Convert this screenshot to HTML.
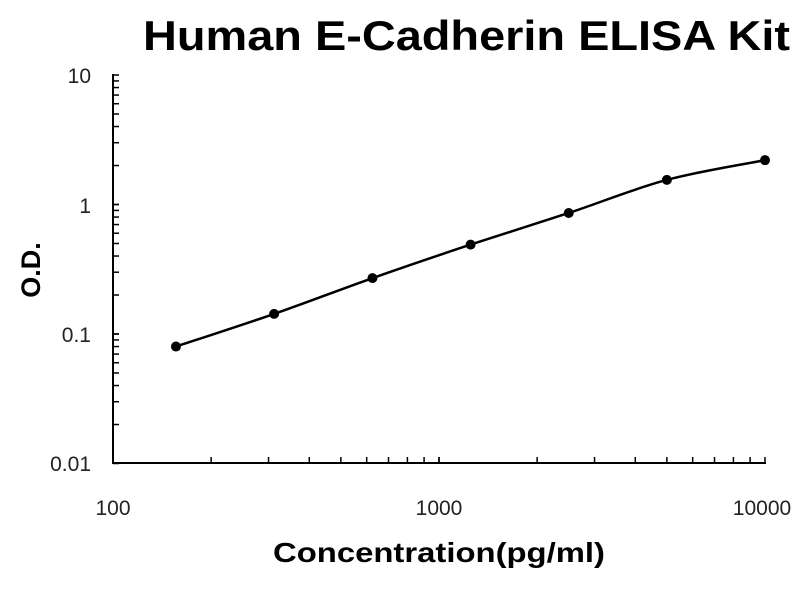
<!DOCTYPE html>
<html><head><meta charset="utf-8"><style>
body{margin:0;background:#fff;}
svg{display:block;font-family:"Liberation Sans",Arial,sans-serif;}
</style></head><body>
<svg id="s" width="800" height="600" viewBox="0 0 800 600">
<text x="143" y="50" textLength="647" lengthAdjust="spacingAndGlyphs" font-size="42" font-weight="bold" fill="#000">Human E-Cadherin ELISA Kit</text>
<text x="273" y="562" textLength="332" lengthAdjust="spacingAndGlyphs" font-size="28" font-weight="bold" fill="#000">Concentration(pg/ml)</text>
<text transform="translate(40,270) rotate(-90)" text-anchor="middle" font-size="27" font-weight="bold" fill="#000">O.D.</text>
<g font-size="21" fill="#222">
<text x="91" y="83" text-anchor="end">10</text>
<text x="91" y="213" text-anchor="end">1</text>
<text x="91" y="342" text-anchor="end">0.1</text>
<text x="91" y="471" text-anchor="end">0.01</text>
<text x="113" y="515" text-anchor="middle">100</text>
<text x="439" y="515" text-anchor="middle">1000</text>
<text x="762" y="515" text-anchor="middle">10000</text>
</g>
<g id="ax" stroke="#000" stroke-width="2" fill="none">
<line x1="113" y1="74" x2="113" y2="464"/>
<line x1="112" y1="463" x2="766" y2="463"/>
</g>
<path id="curve" fill="none" stroke="#000" stroke-width="2.5"/>
<g id="pts" fill="#000"></g>
</svg>
<script>
var ns="http://www.w3.org/2000/svg",ax=document.getElementById('ax');
function X(v){return 113+326*Math.log10(v/100);}
function Y(v){return 334-129.5*Math.log10(v/0.1);}
function ln(a,b,c,d,w){var l=document.createElementNS(ns,'line');l.setAttribute('x1',a);l.setAttribute('y1',b);l.setAttribute('x2',c);l.setAttribute('y2',d);if(w)l.setAttribute('stroke-width',w);ax.appendChild(l);}
for(var e=-2;e<1;e++)for(var m=1;m<=10;m++){var v=m*Math.pow(10,e);var y=Y(v);ln(113,y,119,y,1.5);}
for(var e=2;e<4;e++)for(var m=1;m<=10;m++){var v=m*Math.pow(10,e);var x=X(v);ln(x,463,x,457,1.5);}
var d=[[156,0.08],[312,0.143],[625,0.27],[1250,0.49],[2500,0.86],[5000,1.55],[10000,2.2]];
var p=d.map(function(q){return [X(q[0]),Y(q[1])];});
var s="M"+p[0][0]+","+p[0][1];
for(var i=0;i<p.length-1;i++){var p0=p[i-1]||p[i],p1=p[i],p2=p[i+1],p3=p[i+2]||p2;
s+=" C"+(p1[0]+(p2[0]-p0[0])/6)+","+(p1[1]+(p2[1]-p0[1])/6)+" "+(p2[0]-(p3[0]-p1[0])/6)+","+(p2[1]-(p3[1]-p1[1])/6)+" "+p2[0]+","+p2[1];}
document.getElementById('curve').setAttribute('d',s);
var g=document.getElementById('pts');
p.forEach(function(q){var c=document.createElementNS(ns,'circle');c.setAttribute('cx',q[0]);c.setAttribute('cy',q[1]);c.setAttribute('r',5);g.appendChild(c);});
</script>
</body></html>
